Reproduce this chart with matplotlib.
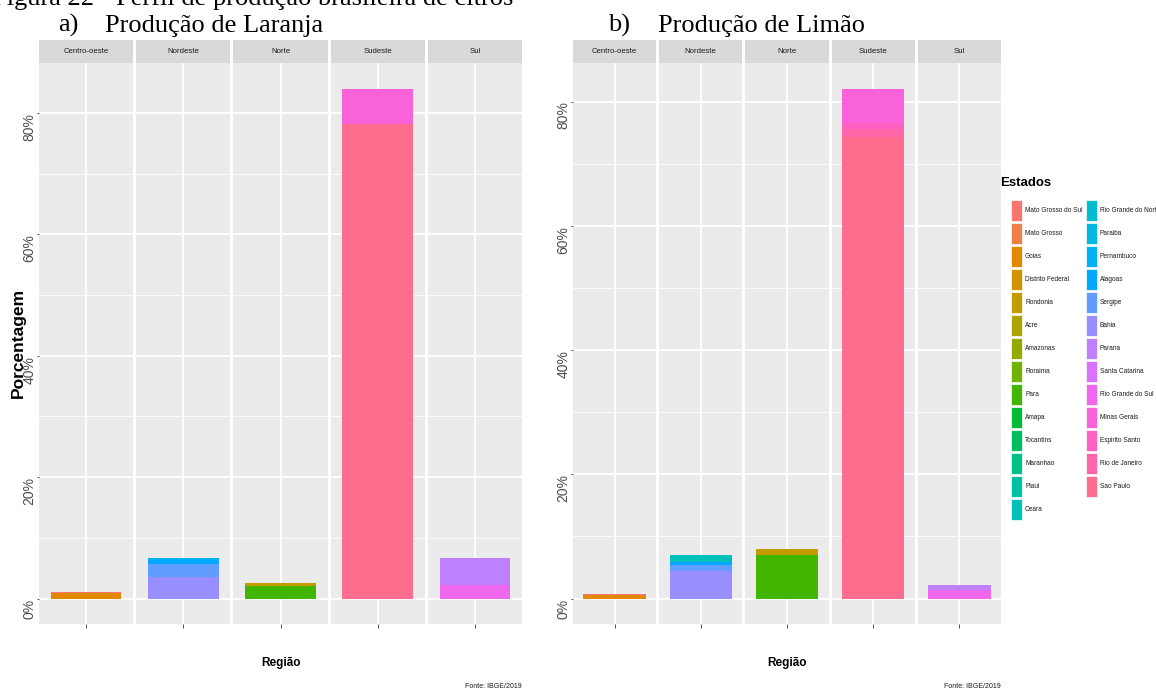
import matplotlib.pyplot as plt
from matplotlib.patches import Rectangle
import numpy as np

W, H = 1156, 693

estados = ['Mato Grosso do Sul', 'Mato Grosso', 'Goias', 'Distrito Federal', 'Rondonia',
           'Acre', 'Amazonas', 'Roraima', 'Para', 'Amapa', 'Tocantins', 'Maranhao',
           'Piaui', 'Ceara', 'Rio Grande do Norte', 'Paraiba', 'Pernambuco', 'Alagoas',
           'Sergipe', 'Bahia', 'Parana', 'Santa Catarina', 'Rio Grande do Sul',
           'Minas Gerais', 'Espirito Santo', 'Rio de Janeiro', 'Sao Paulo']
regioes = ['Centro-oeste', 'Nordeste', 'Norte', 'Sudeste', 'Sul']

# laranja (% da producao nacional)
laranja_regiao = ['Centro-oeste', 'Centro-oeste', 'Nordeste', 'Nordeste', 'Nordeste', 'Nordeste',
                  'Norte', 'Norte', 'Sudeste', 'Sudeste', 'Sul', 'Sul']
laranja_estado = ['Mato Grosso do Sul', 'Goias', 'Pernambuco', 'Alagoas', 'Sergipe', 'Bahia',
                  'Rondonia', 'Para', 'Minas Gerais', 'Sao Paulo', 'Parana', 'Rio Grande do Sul']
laranja_pct = [0.15, 0.9, 0.3, 0.75, 2.15, 3.5, 0.4, 2.1, 5.8, 78.2, 4.4, 2.2]

# limao (% da producao nacional)
limao_regiao = ['Centro-oeste', 'Centro-oeste', 'Nordeste', 'Nordeste', 'Nordeste', 'Nordeste',
                'Norte', 'Norte', 'Sudeste', 'Sudeste', 'Sudeste', 'Sudeste', 'Sul', 'Sul']
limao_estado = ['Mato Grosso do Sul', 'Goias', 'Ceara', 'Alagoas', 'Sergipe', 'Bahia',
                'Rondonia', 'Para', 'Minas Gerais', 'Espirito Santo', 'Rio de Janeiro',
                'Sao Paulo', 'Parana', 'Rio Grande do Sul']
limao_pct = [0.25, 0.55, 1.1, 0.55, 0.9, 4.5, 0.9, 7.05, 5.5, 1.0, 1.3, 74.3, 0.8, 1.3]

pct_ticks = [0, 20, 40, 60, 80]


def hue_pal(n, l=65, c=100, h0=15):
    # same hues as ggplot2's default discrete fill scale (hcl)
    hues = np.linspace(h0, h0 + 360, n + 1)[:-1]
    cols = []
    for h in hues:
        hr = np.deg2rad(h)
        U, V = c * np.cos(hr), c * np.sin(hr)
        Y = 100 * ((l + 16) / 116) ** 3
        u = U / (13 * l) + 0.1978398
        v = V / (13 * l) + 0.4683363
        X = 9 * Y * u / (4 * v)
        Z = -X / 3 - 5 * Y + 3 * Y / v
        X, Y, Z = X / 100, Y / 100, Z / 100
        rgb = np.array([3.240479 * X - 1.537150 * Y - 0.498535 * Z,
                        -0.969256 * X + 1.875992 * Y + 0.041556 * Z,
                        0.055648 * X - 0.204043 * Y + 1.057311 * Z])
        rgb = np.where(rgb > 0.00304,
                       1.055 * np.power(np.clip(rgb, 0, None), 1 / 2.4) - 0.055,
                       12.92 * rgb)
        cols.append(tuple(np.clip(rgb, 0, 1)))
    return cols


cores = dict(zip(estados, hue_pal(len(estados))))

SANS = ['Liberation Sans', 'DejaVu Sans']
SERIF = ['Liberation Serif', 'DejaVu Serif']

fig = plt.figure(figsize=(W / 100, H / 100), dpi=100)


def px_axes(x0, y0, x1, y1):
    return fig.add_axes([x0 / W, 1 - y1 / H, (x1 - x0) / W, (y1 - y0) / H])


def grafico(regiao, estado, pct, left, right, ylabel=False, label_x=None):
    gap = 3
    pw = (right - left - gap * (len(regioes) - 1)) / len(regioes)
    totais = [sum(p for r, p in zip(regiao, pct) if r == reg) for reg in regioes]
    ymax = max(totais)
    for k, reg in enumerate(regioes):
        x0 = left + k * (pw + gap)
        # faixa com o nome da regiao
        st = px_axes(x0, 40, x0 + pw, 63)
        st.set_facecolor('#D9D9D9')
        st.set_xticks([]); st.set_yticks([])
        for s in st.spines.values():
            s.set_visible(False)
        st.text(0.5, 0.5, reg, ha='center', va='center', fontsize=5.6,
                family=SANS, color='#1A1A1A', transform=st.transAxes)

        ax = px_axes(x0, 63, x0 + pw, 624)
        ax.set_facecolor('#EBEBEB')
        ax.set_axisbelow(True)
        for s in ax.spines.values():
            s.set_visible(False)
        ax.set_xlim(0.4, 1.6)
        ax.set_ylim(-0.05 * ymax, 1.05 * ymax)
        ax.set_xticks([1])
        ax.set_xticklabels([])
        ax.set_yticks(pct_ticks)
        ax.set_yticks([10, 30, 50, 70], minor=True)
        ax.grid(which='major', color='white', linewidth=1.3)
        ax.grid(which='minor', color='white', linewidth=0.6)
        ax.tick_params(which='minor', length=0)
        ax.tick_params(axis='x', length=3, color='#333333', width=0.6)
        if k == 0:
            ax.set_yticklabels([f'{t}%' for t in pct_ticks])
            ax.tick_params(axis='y', length=1.5, color='#333333', width=0.6,
                           labelrotation=90, labelsize=10, labelcolor='#4D4D4D', pad=0.5)
            for t in ax.get_yticklabels():
                t.set_va('top')
                t.set_family(SANS)
        else:
            ax.tick_params(axis='y', length=0, labelleft=False)

        # empilhamento: primeiro estado da lista fica no topo
        base = 0
        for est in reversed(estados):
            for r, e, p in zip(regiao, estado, pct):
                if r == reg and e == est:
                    ax.bar(1, p, bottom=base, width=0.9, color=cores[est],
                           edgecolor='none')
                    base += p

    cx = (left + right) / 2
    fig.text(cx / W, 1 - 663 / H, 'Região', ha='center', va='center',
             fontsize=8.5, fontweight='bold', family=SANS)
    fig.text(right / W, 1 - 687 / H, 'Fonte: IBGE/2019', ha='right', va='center',
             fontsize=5, family=SANS, color='#1A1A1A')
    if ylabel:
        fig.text(label_x / W, 1 - 343 / H, 'Porcentagem', rotation=90, ha='center',
                 va='center', fontsize=12.5, fontweight='bold', family=SANS)


grafico(laranja_regiao, laranja_estado, laranja_pct, 39, 522, ylabel=True, label_x=18)
grafico(limao_regiao, limao_estado, limao_pct, 573, 1001)

# titulos
fig.text(-8 / W, 1 - 5 / H, 'Figura 22 - Perfil de produção brasileira de citros',
         ha='left', va='baseline', fontsize=19, family=SERIF)
fig.text(58 / W, 1 - 32 / H, 'a)', ha='left', va='baseline', fontsize=19, family=SERIF)
fig.text(105 / W, 1 - 32 / H, 'Produção de Laranja', ha='left', va='baseline',
         fontsize=19, family=SERIF)
fig.text(608 / W, 1 - 32 / H, 'b)', ha='left', va='baseline', fontsize=19, family=SERIF)
fig.text(658 / W, 1 - 32 / H, 'Produção de Limão', ha='left', va='baseline',
         fontsize=19, family=SERIF)

# legenda dos estados
fig.text(1000 / W, 1 - 183 / H, 'Estados', ha='left', va='center', fontsize=9.5,
         fontweight='bold', family=SANS)
for i, est in enumerate(estados):
    col, row = divmod(i, 14)
    kx = 1011 + col * 75
    ky = 210.5 + row * 23
    fig.patches.append(Rectangle((kx / W, 1 - (ky + 10.5) / H), 11 / W, 21 / H,
                                 transform=fig.transFigure, facecolor=cores[est],
                                 edgecolor='white', linewidth=0.5))
    fig.text((kx + 14) / W, 1 - ky / H, est, ha='left', va='center', fontsize=4.7,
             family=SANS, color='#1A1A1A')

fig.savefig('out.png', dpi=100)
